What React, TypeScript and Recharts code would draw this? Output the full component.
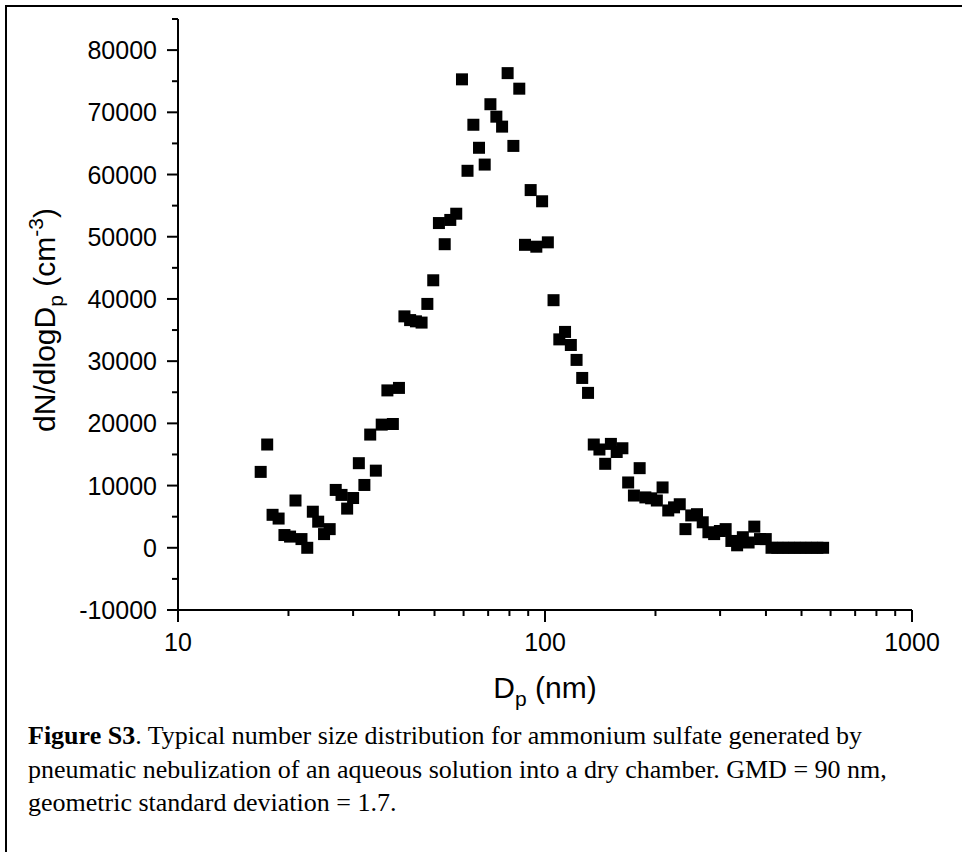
import React from 'react'
import { ScatterChart, Scatter, XAxis, YAxis } from 'recharts'

// particle diameter (nm), SMPS channels
const diameters = [
  16.8, 17.5, 18.1, 18.8, 19.5, 20.2, 20.9, 21.7, 22.5, 23.3,
  24.1, 25.0, 25.9, 26.9, 27.9, 28.9, 30.0, 31.1, 32.2, 33.4,
  34.6, 35.9, 37.2, 38.5, 40.0, 41.4, 42.9, 44.5, 46.1, 47.8,
  49.6, 51.4, 53.3, 55.2, 57.3, 59.4, 61.5, 63.8, 66.1, 68.5,
  71.0, 73.7, 76.4, 79.1, 82.0, 85.1, 88.2, 91.4, 94.7, 98.2,
  101.8, 105.5, 109.4, 113.4, 117.6, 121.9, 126.3, 131.0, 135.8, 140.7,
  145.9, 151.2, 156.8, 162.5, 168.5, 174.7, 181.1, 187.7, 194.6, 201.7,
  209.1, 216.7, 224.7, 232.9, 241.4, 250.3, 259.5, 269.0, 278.8, 289.0,
  299.6, 310.6, 322.0, 333.8, 346.0, 358.7, 371.8, 385.4, 399.5, 414.2,
  429.4, 445.1, 461.4, 478.3, 495.8, 514.0, 532.8, 552.3, 572.5,
]

// dN/dlogDp (cm^-3)
const counts = [
  12200, 16600, 5300, 4700, 2050, 1800, 7600, 1400, 0, 5800,
  4200, 2200, 3000, 9300, 8500, 6300, 8000, 13600, 10100, 18200,
  12400, 19800, 25300, 19900, 25700, 37200, 36600, 36400, 36200, 39200,
  43000, 52200, 48800, 52700, 53700, 75300, 60600, 68000, 64300, 61600,
  71300, 69300, 67700, 76300, 64600, 73800, 48700, 57500, 48400, 55700,
  49100, 39800, 33500, 34700, 32600, 30200, 27300, 24900, 16600, 15800,
  13500, 16700, 15400, 16000, 10500, 8400, 12800, 8100, 7950, 7600,
  9700, 6000, 6500, 7000, 3000, 5200, 5400, 4100, 2500, 2200,
  2700, 3000, 1100, 400, 1700, 850, 3400, 1400, 1400, 0,
  0, 0, 0, 0, 0, 0, 0, 0, 0,
]

const xMajor = [10, 100, 1000]
const xTicks = [10, 20, 30, 40, 50, 60, 70, 80, 90, 100, 200, 300, 400, 500, 600, 700, 800, 900, 1000]
const yMajor = [-10000, 0, 10000, 20000, 30000, 40000, 50000, 60000, 70000, 80000]
const yTicks = [
  -10000, -5000, 0, 5000, 10000, 15000, 20000, 25000, 30000, 35000, 40000,
  45000, 50000, 55000, 60000, 65000, 70000, 75000, 80000, 85000,
]

const points = diameters.map((d, i) => ({ d, n: counts[i] }))

const AXIS_FONT = '"Liberation Sans", Arial, sans-serif'

const XTick = (props: any) => {
  const { x, y, payload } = props
  const major = xMajor.includes(payload.value)
  return (
    <g>
      <line x1={x} y1={y} x2={x} y2={y + (major ? 12 : 6)} stroke="#000" strokeWidth={2} />
      {major && (
        <text x={x} y={y + 41} textAnchor="middle" fontSize={25} fontFamily={AXIS_FONT} fill="#000">
          {payload.value}
        </text>
      )}
    </g>
  )
}

const YTick = (props: any) => {
  const { x, y, payload } = props
  const major = yMajor.includes(payload.value)
  return (
    <g>
      <line x1={x - (major ? 11 : 6)} y1={y} x2={x} y2={y} stroke="#000" strokeWidth={2} />
      {major && (
        <text x={x - 21} y={y + 9} textAnchor="end" fontSize={25} fontFamily={AXIS_FONT} fill="#000">
          {payload.value}
        </text>
      )}
    </g>
  )
}

const Square = (props: any) => {
  const { cx, cy } = props
  return <rect x={cx - 6} y={cy - 6} width={12} height={12} fill="#000" />
}

export default function App() {
  return (
    <div style={{ position: 'absolute', left: 0, top: 0, width: 962, height: 852, background: '#fff', overflow: 'hidden' }}>
      {/* frame: only top and left edges show */}
      <div
        style={{
          position: 'absolute',
          left: 5,
          top: 5,
          width: 970,
          height: 860,
          borderTop: '2px solid #000',
          borderLeft: '2px solid #000',
        }}
      />
      <div style={{ position: 'absolute', left: 0, top: 0 }}>
        <ScatterChart width={962} height={852} margin={{ top: 19, right: 50, bottom: 202, left: 98 }}>
          <XAxis
            type="number"
            dataKey="d"
            scale="log"
            domain={[10, 1000]}
            ticks={xTicks}
            interval={0}
            tickSize={0}
            tickMargin={0}
            tick={<XTick />}
            tickLine={false}
            axisLine={{ stroke: '#000', strokeWidth: 2 }}
            height={40}
          />
          <YAxis
            type="number"
            dataKey="n"
            domain={[-10000, 85000]}
            ticks={yTicks}
            interval={0}
            tickSize={0}
            tickMargin={0}
            tick={<YTick />}
            tickLine={false}
            axisLine={{ stroke: '#000', strokeWidth: 2 }}
            width={80}
          />
          <Scatter data={points} shape={<Square />} isAnimationActive={false} />
          <text x={545} y={698} textAnchor="middle" fontSize={30} fontFamily={AXIS_FONT} fill="#000">
            D<tspan dy={8} fontSize={21}>p</tspan>
            <tspan dy={-8}> (nm)</tspan>
          </text>
          <text
            transform="translate(55 320) rotate(-90)"
            textAnchor="middle"
            fontSize={30}
            fontFamily={AXIS_FONT}
            fill="#000"
          >
            dN/dlogD<tspan dy={8} fontSize={21}>p</tspan>
            <tspan dy={-8}> (cm</tspan>
            <tspan dy={-12} fontSize={21}>-3</tspan>
            <tspan dy={12}>)</tspan>
          </text>
        </ScatterChart>
      </div>
      <div
        style={{
          position: 'absolute',
          left: 28,
          top: 719,
          fontFamily: '"Liberation Serif", "Times New Roman", serif',
          fontSize: 26,
          lineHeight: '33.5px',
          whiteSpace: 'nowrap',
          color: '#000',
        }}
      >
        <b>Figure S3</b>. Typical number size distribution for ammonium sulfate generated by
        <br />
        pneumatic nebulization of an aqueous solution into a dry chamber. GMD = 90 nm,
        <br />
        geometric standard deviation = 1.7.
      </div>
    </div>
  )
}
